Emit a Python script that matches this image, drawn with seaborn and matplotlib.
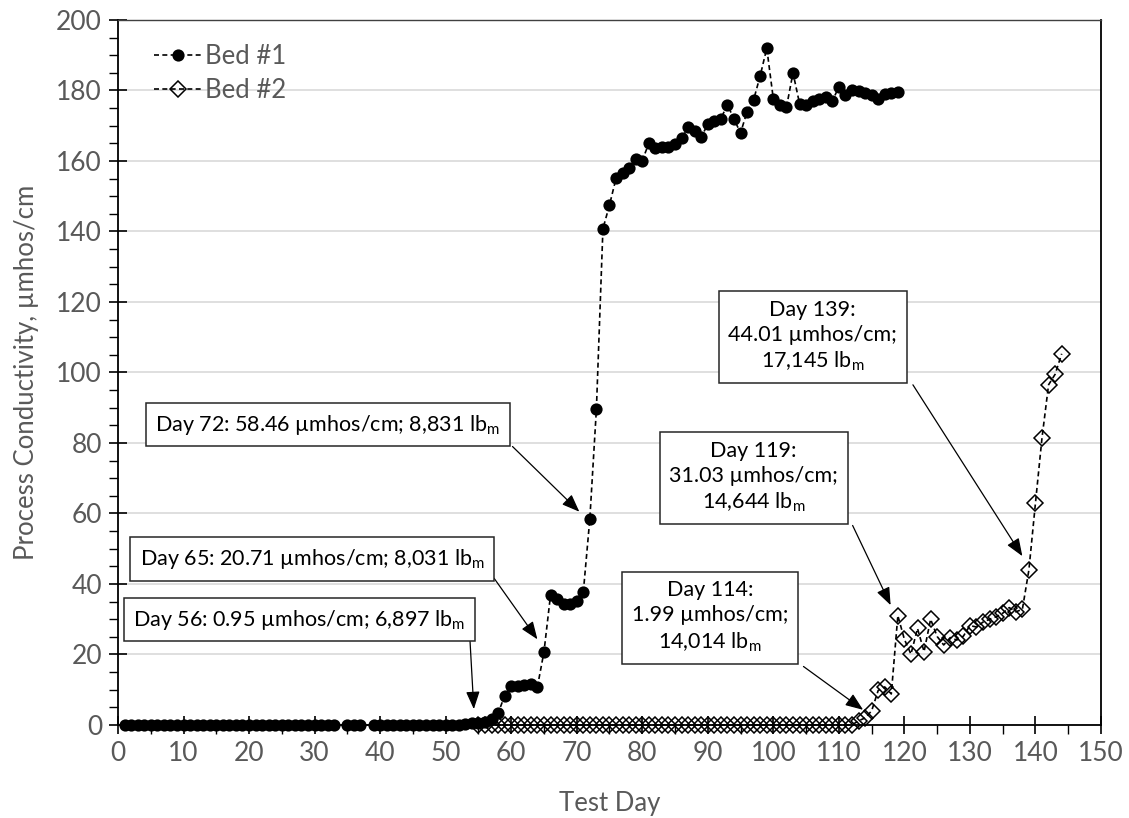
import matplotlib
matplotlib.use("Agg")
import matplotlib.pyplot as plt
import seaborn as sns
import pandas as pd
from matplotlib.ticker import MultipleLocator

# ---------------- data ----------------
bed1_days = (list(range(1, 34)) + [35, 36, 37] + list(range(39, 120)))
bed1_vals = (
    [0.0] * 33 +            # days 1-33
    [0.0, 0.0, 0.0] +       # days 35-37
    [0.0, 0.0, 0.0, 0.0, 0.0, 0.0, 0.0, 0.0, 0.0, 0.0, 0.0, 0.0, 0.0, 0.0,  # 39-52
     0.4, 0.5, 0.7, 0.95, 1.6, 3.3, 8.3,                                     # 53-59
     11.0, 11.2, 11.3, 11.5, 10.8, 20.71, 36.8, 35.8, 34.4, 34.3,            # 60-69
     35.3, 37.6, 58.46, 89.5, 140.8, 147.5, 155.1, 156.7, 157.9, 160.5,     # 70-79
     160.1, 165.0, 163.6, 163.9, 164.1, 164.7, 166.4, 169.5, 168.6, 166.8,  # 80-89
     170.4, 171.4, 172.0, 176.0, 171.8, 168.0, 174.0, 177.4, 184.2, 192.0,  # 90-99
     177.6, 176.0, 175.2, 185.0, 176.3, 176.0, 177.0, 177.5, 178.2, 177.0,  # 100-109
     181.0, 178.7, 180.0, 179.8, 179.2, 178.7, 177.6, 178.9, 179.2, 179.6]  # 110-119
)

bed2_days = list(range(55, 145))
bed2_vals = (
    [0.0] * 58 +                                                             # 55-112
    [1.2, 1.99, 4.0, 9.8, 10.8, 8.8, 31.03,                                  # 113-119
     24.3, 20.1, 27.4, 20.8, 30.0, 25.1, 22.7, 24.8, 24.1, 25.2,            # 120-129
     28.2, 27.8, 29.2, 30.0, 30.7, 31.7, 33.3, 32.1, 32.8, 44.01,           # 130-139
     63.0, 81.5, 96.5, 99.5, 105.3]                                          # 140-144
)

series_names = ["Bed #1", "Bed #2"]
x_label = "Test Day"
y_label = "Process Conductivity, µmhos/cm"

annotations = [
    # text, box centre (x, y), arrow tail (x, y), arrow tip (x, y)
    ("Day 72: 58.46 µmhos/cm; 8,831 lb$_\\mathrm{m}$", (32.0, 85.2), (60.2, 79.0), (70.4, 60.5)),
    ("Day 65: 20.71 µmhos/cm; 8,031 lb$_\\mathrm{m}$", (29.6, 47.1), (57.4, 41.6), (64.0, 24.3)),
    ("Day 56: 0.95 µmhos/cm; 6,897 lb$_\\mathrm{m}$", (27.7, 29.9), (53.7, 24.4), (54.3, 4.5)),
    ("Day 114:\n1.99 µmhos/cm;\n14,014 lb$_\\mathrm{m}$", (90.3, 30.6), (104.6, 16.6), (113.7, 4.3)),
    ("Day 119:\n31.03 µmhos/cm;\n14,644 lb$_\\mathrm{m}$", (97.0, 70.2), (112.1, 56.6), (117.9, 34.0)),
    ("Day 139:\n44.01 µmhos/cm;\n17,145 lb$_\\mathrm{m}$", (106.0, 110.2), (121.3, 96.5), (138.0, 47.9)),
]

# ---------------- style ----------------
sns.set_theme(style="white")
plt.rcParams["font.family"] = ["Lato", "DejaVu Sans"]
plt.rcParams["mathtext.fontset"] = "custom"
plt.rcParams["mathtext.rm"] = "Lato"
plt.rcParams["mathtext.it"] = "Lato:italic"

fig = plt.figure(figsize=(11.29, 8.18), dpi=100)
ax = fig.add_axes([0.1045, 0.1137, 0.8707, 0.8619])

df1 = pd.DataFrame({"day": bed1_days, "val": bed1_vals})
df2 = pd.DataFrame({"day": bed2_days, "val": bed2_vals})

sns.lineplot(data=df1, x="day", y="val", ax=ax, color="black", linestyle=(0, (3, 2)),
             linewidth=1.2, marker="o", markersize=8.8, markeredgewidth=0,
             markerfacecolor="black", label=series_names[0], zorder=3, clip_on=False)
sns.lineplot(data=df2, x="day", y="val", ax=ax, color="black", linestyle=(0, (3, 2)),
             linewidth=1.2, marker="D", markersize=8.2, markeredgewidth=1.1,
             markerfacecolor="none", markeredgecolor="black", label=series_names[1],
             zorder=4, clip_on=False)

ax.set_xlim(0, 150)
ax.set_ylim(0, 200)
ax.xaxis.set_major_locator(MultipleLocator(10))
ax.xaxis.set_minor_locator(MultipleLocator(5))
ax.yaxis.set_major_locator(MultipleLocator(20))
ax.yaxis.set_minor_locator(MultipleLocator(5))

ax.grid(axis="y", which="major", color="#d9d9d9", linewidth=1.2, zorder=0)
ax.grid(axis="x", visible=False)
ax.set_axisbelow(True)

for s in ax.spines.values():
    s.set_color("black")
    s.set_linewidth(1.3)
ax.spines["top"].set_color("#404040")
ax.spines["top"].set_linewidth(1.0)

tick_color = "#595959"
ax.tick_params(axis="both", which="major", direction="inout", length=13, width=1.2,
               color="black", labelsize=19, labelcolor=tick_color, pad=5,
               bottom=True, left=True)
ax.tick_params(axis="both", which="minor", direction="out", length=6.5, width=1.0,
               color="black", bottom=True, left=True)

ax.set_xlabel(x_label, fontsize=18.5, color=tick_color, labelpad=18)
ax.set_ylabel(y_label, fontsize=18.5, color=tick_color, labelpad=12)

for text, centre, tail, tip in annotations:
    ax.text(centre[0], centre[1], text, ha="center", va="center", fontsize=15.5,
            color="black", linespacing=1.3, zorder=6,
            bbox=dict(boxstyle="square,pad=0.45", facecolor="white",
                      edgecolor="#262626", linewidth=1.1))
    ax.annotate("", xy=tip, xytext=tail, zorder=5,
                arrowprops=dict(arrowstyle="-|>,head_length=0.9,head_width=0.35",
                                color="black", lw=0.9, shrinkA=0, shrinkB=0))

leg = ax.legend(loc="upper left", frameon=False, fontsize=18.5, handlelength=1.9,
                handletextpad=0.1, borderaxespad=0.6, labelspacing=0.35,
                bbox_to_anchor=(0.01, 1.003))
for t in leg.get_texts():
    t.set_color(tick_color)

fig.savefig("out.png", dpi=100)
